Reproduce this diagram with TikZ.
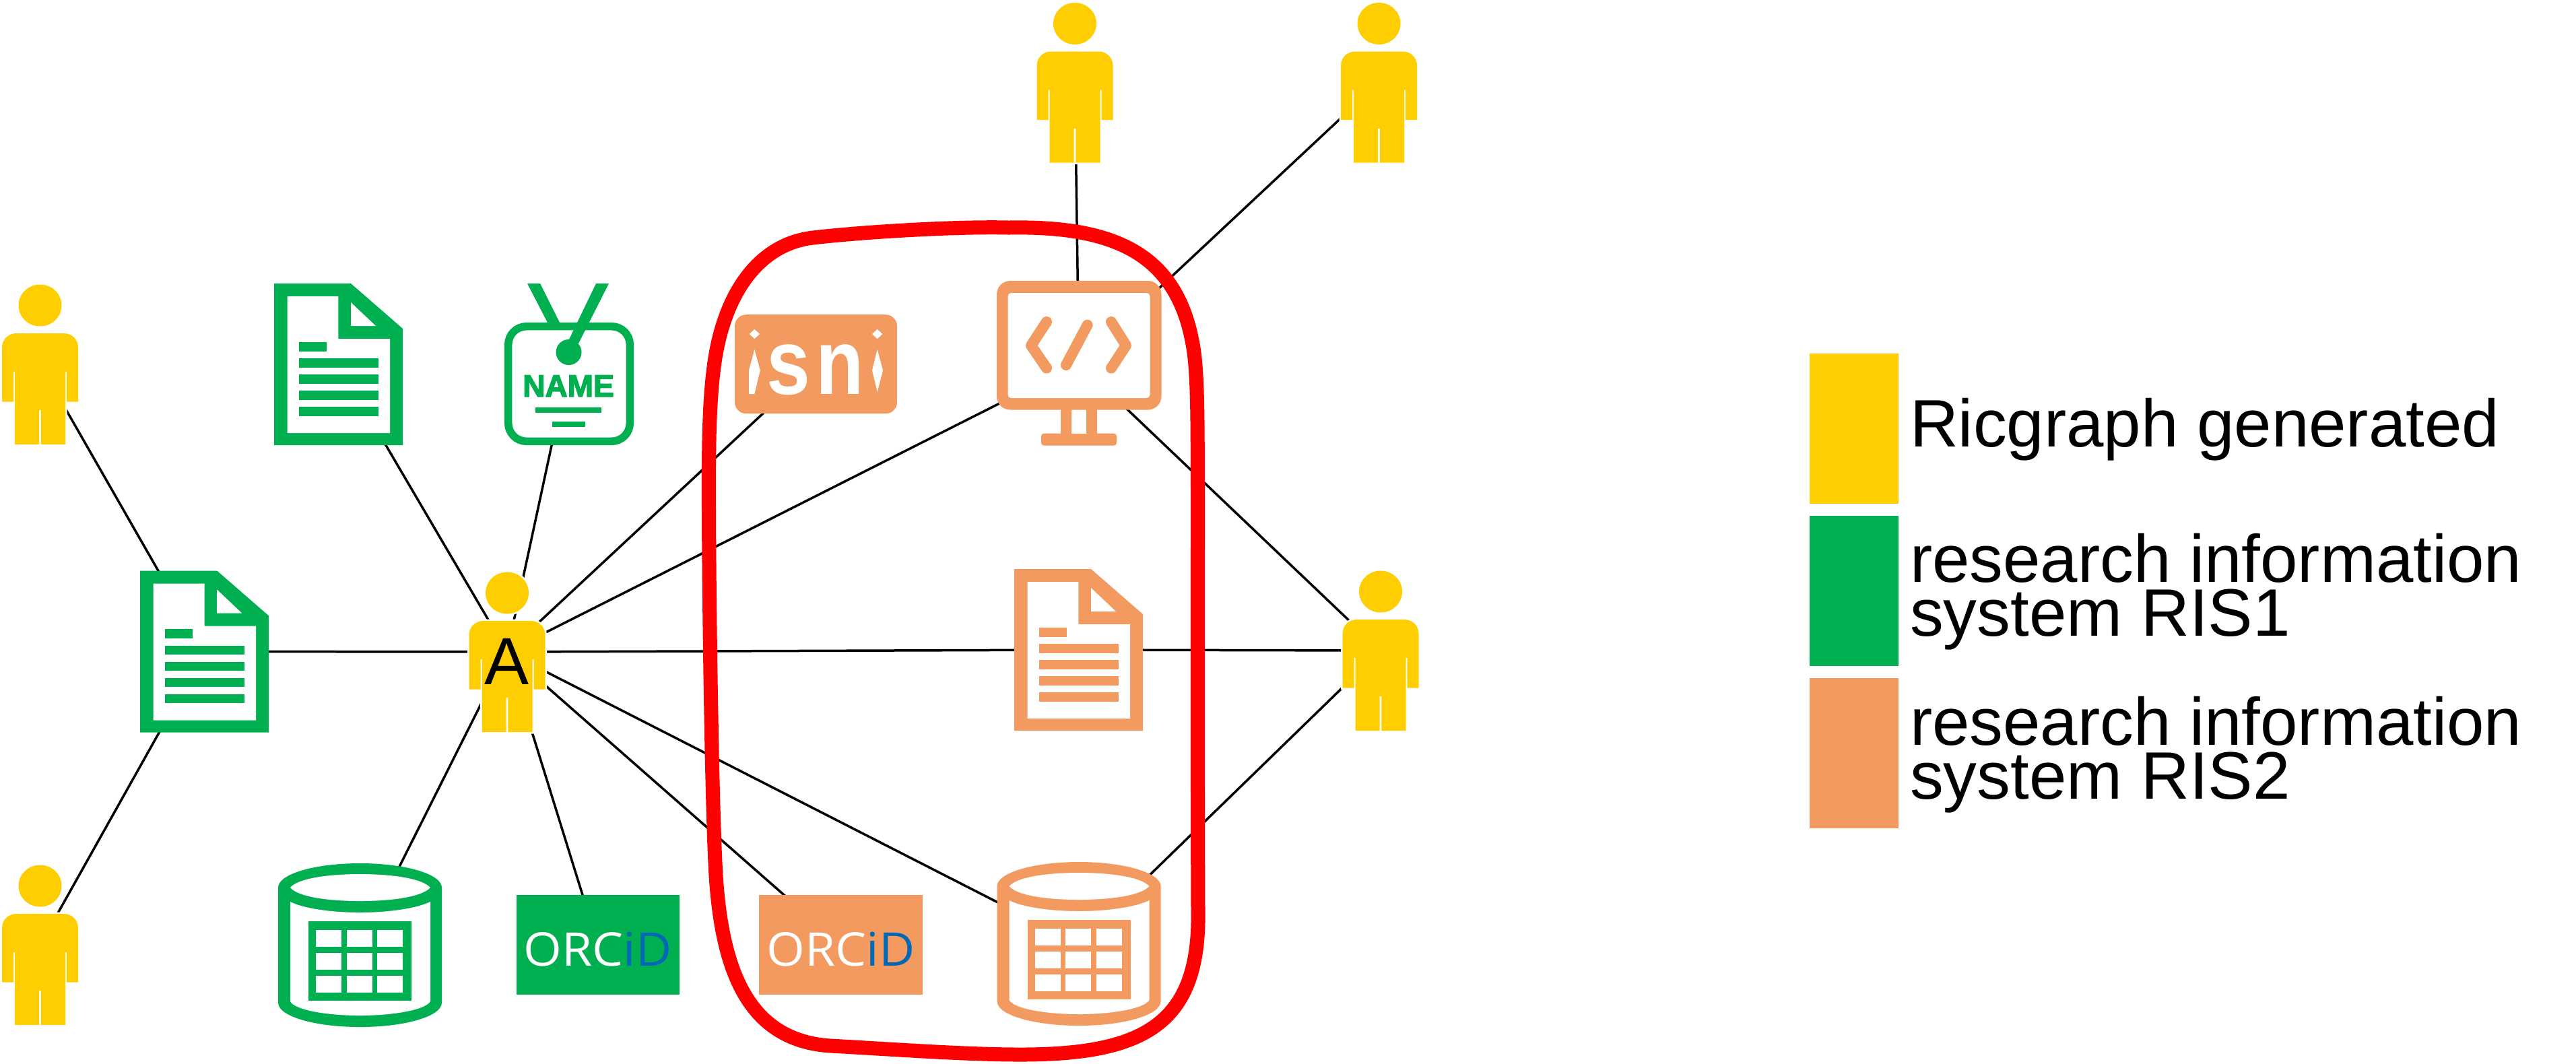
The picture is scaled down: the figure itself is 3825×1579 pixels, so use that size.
\documentclass[tikz,border=0pt]{standalone}
\usepackage{fontspec}
\setmainfont{Liberation Sans}
\newfontfamily\orcidfont{Open Sans}[FakeStretch=1.06]
\newfontfamily\isnifont{Liberation Sans}[FakeStretch=0.85]
\newfontfamily\namefont{Liberation Sans}[BoldFeatures={FakeBold=3}]
\newlength\px
\setlength\px{0.1mm}
\definecolor{ricyellow}{HTML}{FFCE00}
\definecolor{risgreen}{HTML}{00B050}
\definecolor{risorange}{HTML}{F39A60}
\definecolor{orcidblue}{HTML}{0068B7}
\tikzset{
  hub/.style={inner sep=0pt,outer sep=0pt,minimum width=#1},
  link/.style={draw=black,line width=3.5\px},
  legendtext/.style={inner sep=0pt,outer sep=0pt,anchor=base west,align=left,font=\fontsize{28.35}{22.76}\selectfont},
  swatch/.style={fill=#1,draw=none,inner sep=0pt,outer sep=0pt,minimum width=132\px,minimum height=222.5\px},
  orcidbox/.style={fill=#1,draw=none,inner sep=0pt,outer sep=0pt,minimum width=242.5\px,minimum height=148\px},
  orcidtext/.style={inner sep=0pt,outer sep=0pt,anchor=base,text=white,font=\orcidfont\fontsize{19.6}{20}\selectfont},
  pics/personicon/.style={code={
    \path[fill=ricyellow,preaction={draw=white,line width=5\px}]
      (-56.5,55.5) -- (-56.5,-25) .. controls (-56.5,-37) and (-47,-46) .. (-35.5,-46)
      -- (35.5,-46) .. controls (47,-46) and (56.5,-37) .. (56.5,-25) -- (56.5,55.5)
      -- (39.5,55.5) -- (39.5,11) -- (37.5,11) -- (37.5,119) -- (1.3,119) -- (1.3,68) -- (-1.3,68)
      -- (-1.3,119) -- (-37.5,119) -- (-37.5,11) -- (-39.5,11) -- (-39.5,55.5) -- cycle;
    \path[fill=ricyellow,preaction={draw=white,line width=5\px}] (0,-87.5) ellipse [x radius=32,y radius=31];
  }},
  pics/docicon/.style={code={
    \begin{scope}[shift={(-95.5,-120)}]
      \fill[#1] (0,0) -- (114,0) -- (191,67) -- (191,240) -- (0,240) -- cycle;
      \fill[white] (19.5,19) -- (95.3,19) -- (95.3,82) -- (172,82) -- (172,222) -- (19.5,222) -- cycle;
      \fill[white] (114,28) -- (151,63) -- (114,63) -- cycle;
      \fill[#1] (37,86.7) rectangle (77.5,100.5);
      \fill[#1] (37,111) rectangle (154.5,124.5);
      \fill[#1] (37,135) rectangle (154.5,148.5);
      \fill[#1] (37,159) rectangle (154.5,172.5);
      \fill[#1] (37,183) rectangle (154.5,196.5);
    \end{scope}
  }},
  pics/dbicon/.style={code={
    \begin{scope}[shift={(-121.5,-121.5)}]
      \fill[#1] (0,36) .. controls (0,16) and (54,0) .. (121.5,0) .. controls (189,0) and (243,16) .. (243,36)
        -- (243,207) .. controls (243,227) and (189,243) .. (121.5,243) .. controls (54,243) and (0,227) .. (0,207) -- cycle;
      \fill[white] (18,36) .. controls (30,22) and (75,16) .. (121.5,16) .. controls (168,16) and (213,22) .. (226,36)
        .. controls (213,50) and (168,56) .. (121.5,56) .. controls (75,56) and (30,50) .. (18,36) -- cycle;
      \fill[white] (18,57) .. controls (35,66) and (75,73) .. (121.5,73) .. controls (168,73) and (208,66) .. (226,57)
        -- (226,205) .. controls (218,218) and (170,226) .. (121.5,226) .. controls (73,226) and (25,218) .. (18,205) -- cycle;
      \fill[#1] (45,86) rectangle (198,204);
      \foreach \cx in {56,101.7,147}{
        \foreach \cy in {99,133,166.6}{
          \fill[white] (\cx,\cy) rectangle ++(38,25);
        }
      }
    \end{scope}
  }},
}
\begin{document}
\begin{tikzpicture}[x=0.1mm,y=-0.1mm]
\useasboundingbox (0,0) rectangle (3825,1579);
% anchor nodes, one per icon, at the centre of its bounding box
\node[hub=113\px,minimum height=238\px] (p1) at (59.5,541) {};
\node[hub=113\px,minimum height=238\px] (p2) at (59.5,1403) {};
\node[hub=113\px,minimum height=238\px] (a) at (753,968) {};
\node[hub=113\px,minimum height=238\px] (t1) at (1596,122.5) {};
\node[hub=113\px,minimum height=238\px] (t2) at (2047.5,122.5) {};
\node[hub=113\px,minimum height=238\px] (r) at (2050,966) {};
\node[hub=191\px,minimum height=240\px] (doca) at (303.7,967.5) {};
\node[hub=191\px,minimum height=240\px] (docb) at (502.5,541) {};
\node[hub=191\px,minimum height=240\px] (docc) at (1601.5,965) {};
\node[hub=192\px,minimum height=240\px] (badge) at (845,541) {};
\node[hub=243\px,minimum height=243\px] (dba) at (534.5,1403.5) {};
\node[hub=243\px,minimum height=243\px] (dbb) at (1602,1401.5) {};
\node[hub=244\px,minimum height=245\px] (screen) at (1602,539.5) {};
% connectors
\coordinate (isnic) at (1211.5,540.7);
\coordinate (orca) at (888,1403);
\coordinate (orcb) at (1248.5,1403);
\draw[link] (p1.center) -- (doca.center);
\draw[link] (p2.center) -- (doca.center);
\draw[link] (a.center) -- (doca.center);
\draw[link] (a.center) -- (docb.center);
\draw[link] (a.center) -- (badge.center);
\draw[link] (a.center) -- (isnic);
\draw[link] (a.center) -- (screen.center);
\draw[link] (a.center) -- (docc.center);
\draw[link] (a.center) -- (dbb.center);
\draw[link] (a.center) -- (orcb);
\draw[link] (a.center) -- (orca);
\draw[link] (a.center) -- (dba.center);
\draw[link] (t1.center) -- (screen.center);
\draw[link] (t2.center) -- (screen.center);
\draw[link] (r.center) -- (screen.center);
\draw[link] (r.center) -- (docc.center);
\draw[link] (r.center) -- (dbb.center);
% persons
\pic at (p1) {personicon};
\pic at (p2) {personicon};
\pic at (a) {personicon};
\pic at (t1) {personicon};
\pic at (t2) {personicon};
\pic at (r) {personicon};
% documents and databases
\pic at (doca) {docicon=risgreen};
\pic at (docb) {docicon=risgreen};
\pic at (docc) {docicon=risorange};
\pic at (dba) {dbicon=risgreen};
\pic at (dbb) {dbicon=risorange};
% badge
\draw[risgreen,fill=white,line width=11.5\px,rounded corners=27\px] (754.7,484.7) rectangle (935.3,655.3);
\fill[risgreen] (783,421) -- (802,421) -- (832,481) -- (814,481) -- cycle;
\fill[risgreen] (885,421) -- (904,421) -- (859,510) -- (845,504) -- cycle;
\fill[risgreen] (844.5,523) circle [radius=19];
\node[inner sep=0pt,anchor=base,text=risgreen,font=\namefont\bfseries\fontsize{13.1}{14}\selectfont] (nametext) at (844,589) {NAME};
\fill[risgreen] (795,605) rectangle (893,613);
\fill[risgreen] (820,626) rectangle (869,634);
% isni
\node[fill=risorange,draw=none,rounded corners=17\px,inner sep=0pt,outer sep=0pt,minimum width=241\px,minimum height=147\px] (isni) at (1211.5,540.7) {};
\node[inner sep=0pt,outer sep=0pt,anchor=base west,text=white,font=\isnifont\bfseries\fontsize{39}{39}\selectfont] (isnitext) at (1120,585) {\makebox[0pt]{i}\kern51\px\makebox[0pt]{s}\kern76.5\px\makebox[0pt]{n}\kern55.5\px\makebox[0pt]{i}};
\fill[risorange] (1104,478) rectangle (1134,595);
\fill[risorange] (1288,478) rectangle (1316,595);
\fill[white] (1120.3,489) -- (1128,496) -- (1120.3,503) -- (1112.6,496) -- cycle;
\fill[white] (1302.7,489) -- (1310.4,496) -- (1302.7,503) -- (1295,496) -- cycle;
\fill[white] (1120.3,519) -- (1128.7,550) -- (1120.3,585) -- (1112,585) -- (1112,550) -- cycle;
\fill[white] (1302.7,519) -- (1311,550) -- (1302.7,581.7) -- (1295,550) -- cycle;
% screen
\fill[risorange,rounded corners=4\px] (1546,643.6) rectangle (1658,661.5);
\fill[risorange] (1574.5,600) rectangle (1629,650);
\fill[white] (1591,608) rectangle (1613,643.6);
\fill[risorange,rounded corners=20\px] (1480,417) rectangle (1724.5,608.5);
\fill[white,rounded corners=5\px] (1496.5,435) rectangle (1707.5,591);
\draw[risorange,line width=16\px,line cap=round,line join=round] (1554,478) -- (1531,513) -- (1554,546.6);
\draw[risorange,line width=16\px,line cap=round,line join=round] (1650,478) -- (1672,513) -- (1650,546.6);
\draw[risorange,line width=16\px,line cap=round] (1614.6,482.6) -- (1583,542);
% ORCID boxes
\node[orcidbox=risgreen] (orcidgreen) at (orca) {};
\node[orcidtext] (orcidgreentext) at (887.5,1434.5) {ORC\textcolor{orcidblue}{iD}};
\node[orcidbox=risorange] (orcidorange) at (orcb) {};
\node[orcidtext] (orcidorangetext) at (1248.5,1434.5) {ORC\textcolor{orcidblue}{iD}};
% person label
\node[inner sep=0pt,outer sep=0pt,anchor=base,font=\fontsize{28.17}{30}\selectfont] (alabel) at (752.5,1016) {A};
% red contour
\draw[red,line width=21\px] (1052.5,760)
  .. controls (1052,660) and (1053,590) .. (1061.7,533)
  .. controls (1078,430) and (1130,362) .. (1207,353)
  .. controls (1280,344.5) and (1420,336) .. (1498,338)
  .. controls (1660,335) and (1750,380) .. (1772,517)
  .. controls (1779,560) and (1778,640) .. (1778.5,729)
  .. controls (1778.5,900) and (1778,1150) .. (1779,1352)
  .. controls (1782,1520) and (1700,1566) .. (1515,1566)
  .. controls (1430,1566) and (1310,1557) .. (1233,1553)
  .. controls (1110,1545) and (1072,1440) .. (1063,1300)
  .. controls (1057,1200) and (1053,900) .. (1052.5,760) -- cycle;
% legend
\node[swatch=ricyellow] (swy) at (2753,636.5) {};
\node[swatch=risgreen] (swg) at (2753,877.5) {};
\node[swatch=risorange] (swo) at (2753,1118.5) {};
\node[legendtext] (ly) at (2836,663) {Ricgraph generated};
\node[legendtext] (lg) at (2836,944) {research information\\system RIS1};
\node[legendtext] (lo) at (2836,1186) {research information\\system RIS2};
\end{tikzpicture}
\end{document}
